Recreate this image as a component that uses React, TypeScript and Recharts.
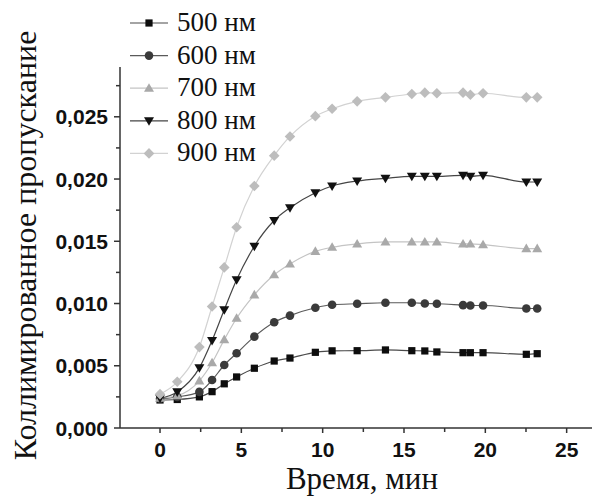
import { Line, LineChart, XAxis, YAxis, Legend, Label } from "recharts";

// время, мин
const times = [0, 1.06, 2.42, 3.2, 3.95, 4.71, 5.8, 7.02, 7.99, 9.55, 10.58, 12.12, 13.86, 15.48, 16.28, 17.02, 18.63, 19.08, 19.86, 22.52, 23.19];

const s500 = [0.00225, 0.00229, 0.0025, 0.00292, 0.00355, 0.0041, 0.0048, 0.00538, 0.00562, 0.00608, 0.0062, 0.00621, 0.00627, 0.00621, 0.00619, 0.00611, 0.00605, 0.00605, 0.00605, 0.00592, 0.00597];
const s600 = [0.00235, 0.0025, 0.0029, 0.00385, 0.00506, 0.006, 0.00734, 0.0085, 0.00903, 0.00966, 0.0099, 0.00998, 0.01006, 0.01006, 0.01, 0.00998, 0.00987, 0.00984, 0.00984, 0.0096, 0.0096];
const s700 = [0.0024, 0.0026, 0.00379, 0.00524, 0.0071, 0.00882, 0.0107, 0.01231, 0.01318, 0.01419, 0.01452, 0.01479, 0.01495, 0.01495, 0.01495, 0.01495, 0.01479, 0.01479, 0.01473, 0.01441, 0.01441];
const s800 = [0.0024, 0.0029, 0.00483, 0.00703, 0.0095, 0.0119, 0.0146, 0.01667, 0.01769, 0.0189, 0.01944, 0.01984, 0.02006, 0.02022, 0.02022, 0.02022, 0.0203, 0.02022, 0.0203, 0.01976, 0.01976];
const s900 = [0.00272, 0.00371, 0.0065, 0.00976, 0.0129, 0.01613, 0.01944, 0.02188, 0.02342, 0.02505, 0.02565, 0.02624, 0.02656, 0.02683, 0.02694, 0.02689, 0.02694, 0.02677, 0.02689, 0.02656, 0.02656];

const xTicks = [0, 2.5, 5, 7.5, 10, 12.5, 15, 17.5, 20, 22.5, 25];
const yTicks = [0, 0.0025, 0.005, 0.0075, 0.01, 0.0125, 0.015, 0.0175, 0.02, 0.0225, 0.025, 0.0275];

type Kind = "square" | "circle" | "up" | "down" | "diamond";

const series: { key: string; name: string; kind: Kind; fill: string; stroke: string; values: number[] }[] = [
  { key: "v500", name: "500 нм", kind: "square", fill: "#0d0d0d", stroke: "#4a4a4a", values: s500 },
  { key: "v600", name: "600 нм", kind: "circle", fill: "#3a3a3a", stroke: "#5a5a5a", values: s600 },
  { key: "v700", name: "700 нм", kind: "up", fill: "#a9a9a9", stroke: "#c4c4c4", values: s700 },
  { key: "v800", name: "800 нм", kind: "down", fill: "#111111", stroke: "#454545", values: s800 },
  { key: "v900", name: "900 нм", kind: "diamond", fill: "#bdbdbd", stroke: "#d2d2d2", values: s900 },
];

const data = times.map((t, i) => {
  const row: Record<string, number> = { t };
  series.forEach((s) => (row[s.key] = s.values[i]));
  return row;
});

function Marker({ cx, cy, kind, fill }: { cx: number; cy: number; kind: Kind; fill: string }) {
  if (cx == null || cy == null) return null;
  switch (kind) {
    case "square":
      return <rect x={cx - 3.6} y={cy - 3.6} width={7.2} height={7.2} fill={fill} />;
    case "circle":
      return <circle cx={cx} cy={cy} r={4.3} fill={fill} />;
    case "up":
      return <polygon points={`${cx},${cy - 5} ${cx + 5},${cy + 3.6} ${cx - 5},${cy + 3.6}`} fill={fill} />;
    case "down":
      return <polygon points={`${cx - 5},${cy - 3.6} ${cx + 5},${cy - 3.6} ${cx},${cy + 5}`} fill={fill} />;
    default:
      return <polygon points={`${cx},${cy - 5.3} ${cx + 5.3},${cy} ${cx},${cy + 5.3} ${cx - 5.3},${cy}`} fill={fill} />;
  }
}

const tickFont = { fontFamily: "Liberation Sans, Arial, sans-serif", fontWeight: 700, fontSize: 21, fill: "#111" };
const serifFont = "'Liberation Serif'";

function XTick({ x, y, payload }: any) {
  const major = payload.value % 5 === 0;
  return (
    <g>
      <line x1={x} y1={y} x2={x} y2={y + (major ? 5 : 4)} stroke="#333" strokeWidth={1.5} />
      {major && (
        <text x={x} y={y + 29} textAnchor="middle" {...tickFont}>
          {payload.value}
        </text>
      )}
    </g>
  );
}

function YTick({ x, y, payload }: any) {
  const v = payload.value;
  const major = Math.abs(Math.round(v / 0.005) * 0.005 - v) < 1e-9;
  return (
    <g>
      <line x1={x} y1={y} x2={x - (major ? 6 : 4)} y2={y} stroke="#333" strokeWidth={1.5} />
      {major && (
        <text x={x - 12} y={y + 7.5} textAnchor="end" {...tickFont}>
          {v.toFixed(3).replace(".", ",")}
        </text>
      )}
    </g>
  );
}

function LegendBox() {
  return (
    <svg width={300} height={170} style={{ display: "block" }}>
      {series.map((s, i) => {
        const cy = 15 + 32.6 * i;
        return (
          <g key={s.key}>
            <line x1={122} y1={cy} x2={160} y2={cy} stroke={s.stroke} strokeWidth={1.2} />
            <Marker cx={141} cy={cy} kind={s.kind} fill={s.fill} />
            <text x={169} y={cy + 8} fontFamily={serifFont} fontSize={27} fill="#111">
              {s.name}
            </text>
          </g>
        );
      })}
    </svg>
  );
}

export default function App() {
  return (
    <LineChart width={592} height={489} data={data} margin={{ top: 59, right: 0, bottom: 0, left: 0 }}>
      <XAxis
        dataKey="t"
        type="number"
        domain={[-2.46, 27.05]}
        ticks={xTicks}
        interval={0}
        height={69}
        tickSize={0}
        tickMargin={0}
        tickLine={false}
        tick={<XTick />}
        axisLine={{ stroke: "#333", strokeWidth: 1.5 }}
        allowDataOverflow
      >
        <Label
          content={({ viewBox }: any) => (
            <text x={viewBox.x + viewBox.width / 2 + 2} y={viewBox.y + 61} textAnchor="middle" fontFamily={serifFont} fontSize={31} fill="#111">
              Время, мин
            </text>
          )}
        />
      </XAxis>
      <YAxis
        type="number"
        domain={[0, 0.029]}
        ticks={yTicks}
        interval={0}
        width={112}
        tickSize={0}
        tickMargin={0}
        tickLine={false}
        tick={<YTick />}
        axisLine={{ stroke: "#333", strokeWidth: 1.5 }}
        allowDataOverflow
      >
        <Label
          content={({ viewBox }: any) => {
            const cx = 28;
            const cy = viewBox.y + viewBox.height / 2 - 2;
            return (
              <text x={cx} y={cy} transform={`rotate(-90, ${cx}, ${cy})`} textAnchor="middle" fontFamily={serifFont} fontSize={32} fill="#111">
                Коллимированное пропускание
              </text>
            );
          }}
        />
      </YAxis>
      <Legend
        layout="vertical"
        align="center"
        verticalAlign="middle"
        content={() => <LegendBox />}
        wrapperStyle={{ left: 0, top: 0, width: 300, height: 170 }}
      />
      {series.map((s) => (
        <Line
          key={s.key}
          type="monotone"
          dataKey={s.key}
          name={s.name}
          stroke={s.stroke}
          strokeWidth={1.2}
          isAnimationActive={false}
          dot={(p: any) => <Marker key={`${s.key}-${p.index}`} cx={p.cx} cy={p.cy} kind={s.kind} fill={s.fill} />}
          activeDot={false}
        />
      ))}
    </LineChart>
  );
}
